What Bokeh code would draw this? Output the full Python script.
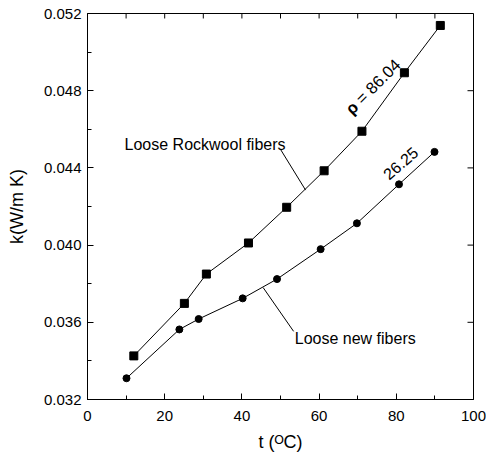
import math
from bokeh.plotting import figure
from bokeh.models import LinearAxis, FixedTicker, Range1d, CustomJSTickFormatter
from bokeh.core.properties import value
from bokeh.embed import file_html
from bokeh.resources import INLINE

# ---- data ----
t_rock = [12.0, 25.1, 30.8, 41.7, 51.6, 61.3, 71.1, 82.1, 91.4]
k_rock = [0.03426, 0.03698, 0.0385, 0.04011, 0.04196, 0.04385, 0.0459, 0.04893, 0.05138]
t_new = [10.1, 23.8, 28.8, 40.2, 49.1, 60.4, 69.8, 80.7, 89.9]
k_new = [0.0331, 0.03563, 0.03617, 0.03724, 0.03824, 0.03979, 0.04113, 0.04315, 0.04483]

x_ticks = [0, 20, 40, 60, 80, 100]
x_minor = [10, 30, 50, 70, 90]
y_ticks = [0.032, 0.036, 0.040, 0.044, 0.048, 0.052]
y_minor = [0.034, 0.038, 0.042, 0.046, 0.050]

X0, X1 = 0, 100
Y0, Y1 = 0.032, 0.052

x_title = "t (\u1D3CC)"
y_title = "k(W/m K)"

# annotation anchors (data units)
rock_label = ("Loose Rockwool fibers", 9.6, 0.04522)
new_label = ("Loose new fibers", 53.7, 0.03515)
rock_leader = ([50.0, 56.5], [0.04496, 0.04285])
new_leader = ([53.4, 45.5], [0.03553, 0.0378])
rho_anchor = (67.5, 0.04693)
rho_value = "= 86.04"
new_value = ("26.25", 81.1, 0.04425)

FONT = "Liberation Sans"
W, H = 486, 454
BL, BR, BT, BB = 87, 13, 13, 54
px_x = (W - BL - BR) / (X1 - X0)   # pixels per data unit, x
px_y = (H - BT - BB) / (Y1 - Y0)   # pixels per data unit, y

p = figure(width=W, height=H, output_backend="svg", toolbar_location=None,
           x_range=Range1d(X0, X1), y_range=Range1d(Y0, Y1),
           x_axis_location=None, y_axis_location=None,
           min_border_left=BL, min_border_right=BR, min_border_top=BT, min_border_bottom=BB)
p.grid.visible = False
p.outline_line_color = "black"
p.outline_line_width = 1
p.background_fill_color = "white"
p.border_fill_color = "white"

def style(ax, ticks, minor):
    ax.ticker = FixedTicker(ticks=ticks, minor_ticks=minor)
    ax.axis_line_color = "black"
    ax.axis_line_width = 1
    ax.major_tick_in = 6
    ax.major_tick_out = 0
    ax.minor_tick_in = 4
    ax.minor_tick_out = 0
    ax.major_tick_line_color = "black"
    ax.minor_tick_line_color = "black"
    ax.major_label_text_font = FONT
    ax.major_label_text_color = "black"
    ax.major_label_text_font_size = "15px"
    ax.axis_label_text_font = FONT
    ax.axis_label_text_font_size = "18px"
    ax.axis_label_text_font_style = "normal"
    ax.axis_label_text_color = "black"

xb = LinearAxis()
style(xb, x_ticks, x_minor)
xb.major_label_standoff = 11
xb.axis_label = x_title
xb.axis_label_standoff = 8
p.add_layout(xb, "below")

yl = LinearAxis()
style(yl, y_ticks, y_minor)
yl.major_label_standoff = 6
yl.formatter = CustomJSTickFormatter(code="return tick.toFixed(3);")
yl.axis_label = y_title
yl.axis_label_standoff = 14
p.add_layout(yl, "left")

# inward ticks on the top and right frame edges
top_ticks = sorted(x_ticks + x_minor)
p.segment(x0=top_ticks, y0=[Y1] * len(top_ticks), x1=top_ticks,
          y1=[Y1 - 5 / px_y] * len(top_ticks), line_color="black", line_width=1)
p.segment(x0=[X1] * len(y_ticks), y0=y_ticks, x1=[X1 - 6 / px_x] * len(y_ticks),
          y1=y_ticks, line_color="black", line_width=1)

# series
p.line(t_rock, k_rock, line_color="black", line_width=1)
p.scatter(t_rock, k_rock, marker="square", size=8, fill_color="black", line_color="black")
p.line(t_new, k_new, line_color="black", line_width=1)
p.scatter(t_new, k_new, marker="circle", size=7, fill_color="black", line_color="black")

# leaders
p.line(rock_leader[0], rock_leader[1], line_color="black", line_width=1)
p.line(new_leader[0], new_leader[1], line_color="black", line_width=1)

# labels
for txt, x, y in (rock_label, new_label):
    p.text(x=[x], y=[y], text=[txt], text_font=value(FONT), text_font_size="16px",
           text_align="left", text_baseline="alphabetic", text_color="black")

ang = math.radians(45)
step = 14.5  # px along the baseline from the start of rho to "="
p.text(x=[rho_anchor[0]], y=[rho_anchor[1]], text=["\u03c1"], text_font=value(FONT),
       text_font_size="16.5px", text_font_style="bold", text_align="left",
       text_baseline="alphabetic", angle=ang, text_color="black")
p.text(x=[rho_anchor[0] + step * math.cos(ang) / px_x],
       y=[rho_anchor[1] + step * math.sin(ang) / px_y],
       text=[rho_value], text_font=value(FONT),
       text_font_size="16.5px", text_align="left", text_baseline="alphabetic",
       angle=ang, text_color="black")
p.text(x=[new_value[1]], y=[new_value[2]], text=[new_value[0]], text_font=value(FONT),
       text_font_size="16px", text_align="center", text_baseline="middle",
       angle=math.radians(41), text_color="black")

open("out.html", "w").write(file_html(p, INLINE))
